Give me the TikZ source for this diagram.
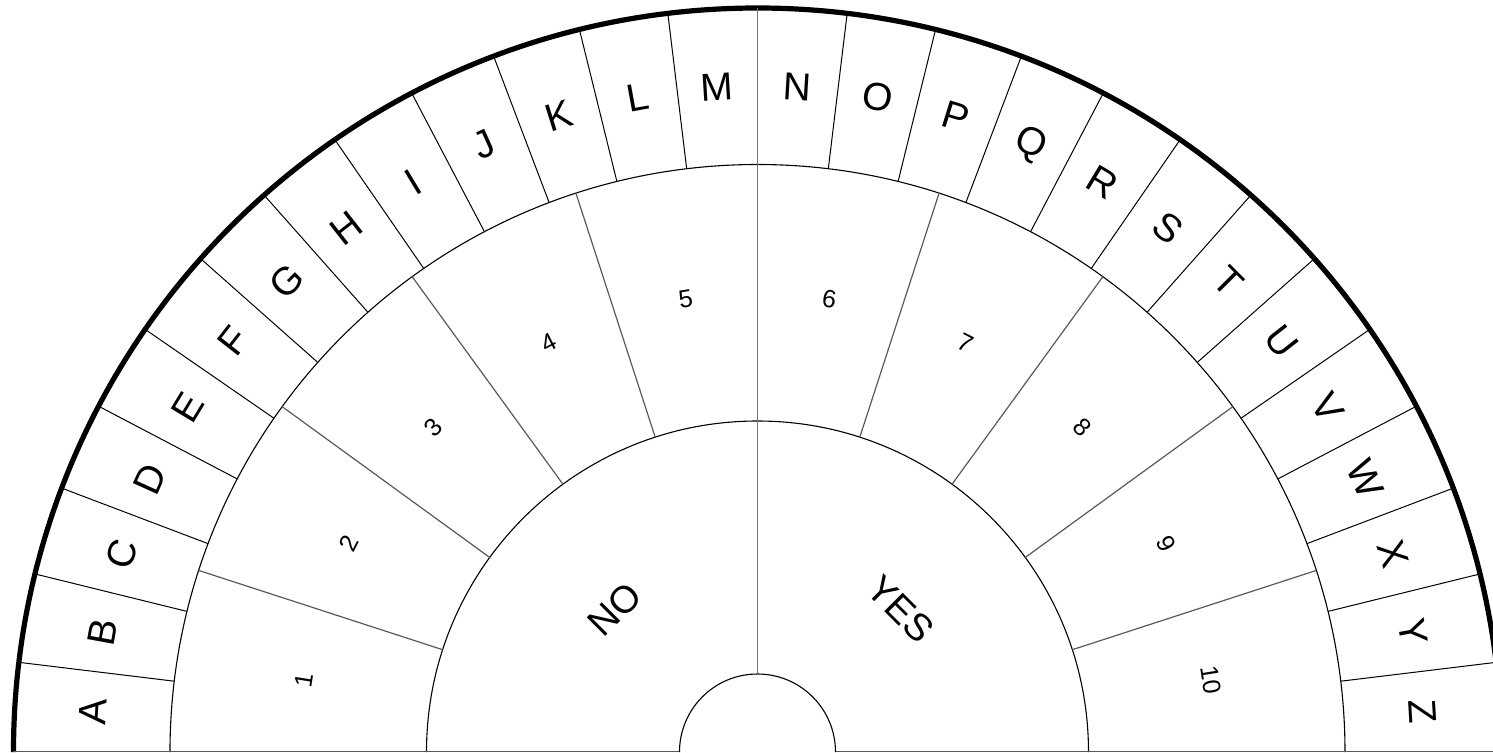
\documentclass[tikz,border=0pt]{standalone}
\usepackage{fontspec}
\setmainfont{Liberation Sans}
\def\Rout{372pt}
\def\Rlet{293.75pt}
\def\Rnum{165.5pt}
\def\Rhub{39pt}
\begin{document}
\begin{tikzpicture}[every node/.style={inner sep=0pt},
  letter/.style={font=\fontsize{19.5}{20}\selectfont},
  digit/.style={font=\fontsize{12.5}{13}\selectfont},
  answer/.style={font=\fontsize{19}{20}\selectfont},
  rim/.style={line width=2.6pt},
  ring/.style={line width=0.55pt},
  spoke/.style={line width=0.5pt},
  softspoke/.style={line width=0.6pt, black!65}]
\useasboundingbox (-378.75pt,0pt) rectangle (367.75pt,376pt);
% rings
\draw[rim] (\Rout,0pt) arc[start angle=0, end angle=180, radius=\Rout];
\draw[ring] (\Rlet,0pt) arc[start angle=0, end angle=180, radius=\Rlet];
\draw[ring] (\Rnum,0pt) arc[start angle=0, end angle=180, radius=\Rnum];
\draw[ring] (\Rhub,0pt) arc[start angle=0, end angle=180, radius=\Rhub];
% base line
\draw[softspoke] (-\Rout,0.3pt) -- (-\Rhub,0.3pt);
\draw[softspoke] (\Rhub,0.3pt) -- (\Rout,0.3pt);
% letter spokes
\foreach \k in {1,...,25}{
  \ifnum\k=13\else
    \draw[spoke] (180-\k*180/26:\Rlet) -- (180-\k*180/26:\Rout);
  \fi}
% number spokes
\foreach \k in {1,...,9}{
  \ifnum\k=5\else
    \draw[softspoke] (180-\k*18:\Rnum) -- (180-\k*18:\Rlet);
  \fi}
% centre line
\draw[line width=0.9pt, black!55] (90:\Rhub) -- (90:\Rout);
% letters
\foreach \ch [count=\i] in {A,B,C,D,E,F,G,H,I,J,K,L,M,N,O,P,Q,R,S,T,U,V,W,X,Y,Z}{
  \pgfmathsetmacro{\ang}{180-(\i-0.5)*180/26}
  \node[letter, rotate=\ang-90] (let-\ch) at (\ang:333pt) {\ch};
}
% numbers
\foreach \n in {1,...,10}{
  \pgfmathsetmacro{\ang}{180-(\n-0.5)*18}
  \node[digit, rotate=\ang-90] (num-\n) at (\ang:229.5pt) {\n};
}
% answers
\node[answer, rotate=45] (no) at (135:101pt) {NO};
\node[answer, rotate=-45] (yes) at (45:101pt) {YES};
\end{tikzpicture}
\end{document}
